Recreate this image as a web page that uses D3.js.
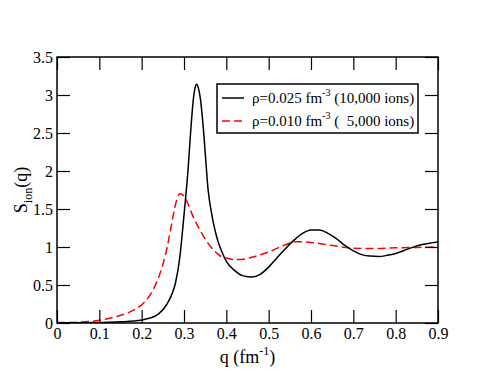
<!DOCTYPE html>
<html><head><meta charset="utf-8">
<script src="https://cdn.jsdelivr.net/npm/d3@7"></script>
<style>body{margin:0;background:#fff}svg{display:block}</style>
</head><body><svg id="c" width="493" height="381" style="font-family:'Liberation Serif', serif"></svg>
<script>
const seriesNames = ["ρ=0.025 fm|-3| (10,000 ions)", "ρ=0.010 fm|-3| (  5,000 ions)"];
const qBlack = [0,0.05,0.1,0.15,0.2,0.22,0.24,0.26,0.27,0.28,0.29,0.30,0.31,0.316,0.322,0.326,0.33,0.334,0.339,0.346,0.35,0.357,0.365,0.37,0.38,0.39,0.40,0.42,0.44,0.46,0.48,0.50,0.52,0.54,0.56,0.58,0.60,0.62,0.64,0.66,0.68,0.70,0.72,0.74,0.76,0.78,0.80,0.82,0.84,0.86,0.88,0.90];
const sBlack = [0,0.002,0.006,0.015,0.04,0.065,0.12,0.25,0.36,0.53,0.86,1.42,2.05,2.54,2.94,3.09,3.14,3.09,2.94,2.54,2.25,1.75,1.45,1.3,1.08,0.93,0.81,0.69,0.62,0.605,0.64,0.735,0.86,0.98,1.09,1.18,1.225,1.225,1.18,1.11,1.02,0.95,0.9,0.88,0.875,0.89,0.915,0.955,0.995,1.03,1.05,1.065];
const qRed = [0,0.05,0.1,0.14,0.17,0.2,0.22,0.24,0.25,0.26,0.27,0.28,0.29,0.30,0.31,0.32,0.34,0.354,0.37,0.385,0.40,0.42,0.44,0.46,0.50,0.54,0.566,0.60,0.65,0.70,0.75,0.80,0.85,0.90];
const sRed = [0.005,0.012,0.035,0.085,0.14,0.24,0.37,0.6,0.77,0.99,1.28,1.56,1.70,1.67,1.56,1.42,1.2,1.07,0.96,0.885,0.855,0.835,0.84,0.865,0.935,1.03,1.07,1.06,1.02,0.985,0.98,0.99,0.995,1.0];
const xTicks = [0,0.1,0.2,0.3,0.4,0.5,0.6,0.7,0.8,0.9];
const yTicks = [0,0.5,1,1.5,2,2.5,3,3.5];

const FONT = "'Liberation Serif', serif";
const svg = d3.select("#c");
try {
const L=57, R=438, T=57, B=323;
const x = d3.scaleLinear().domain([0,0.9]).range([L,R]);
const y = d3.scaleLinear().domain([0,3.5]).range([B,T]);

const line = d3.line().x(d=>x(d[0])).y(d=>y(d[1])).curve(d3.curveMonotoneX);
svg.append("defs").append("clipPath").attr("id","clip").append("rect").attr("x",L).attr("y",T).attr("width",R-L).attr("height",B-T);
const g = svg.append("g").attr("clip-path","url(#clip)");
g.append("path").datum(qRed.map((q,i)=>[q,sRed[i]])).attr("d",line).attr("fill","none").attr("stroke","#ff0000").attr("stroke-width",1.5).attr("stroke-dasharray","8,4");
g.append("path").datum(qBlack.map((q,i)=>[q,sBlack[i]])).attr("d",line).attr("fill","none").attr("stroke","#000").attr("stroke-width",1.5);

const xMinor = d3.range(0,0.9001,0.025).filter(v=>Math.abs(v*10-Math.round(v*10))>1e-6);
const yMinor = d3.range(0,3.5001,0.1).filter(v=>Math.abs(v*2-Math.round(v*2))>1e-6);
function ax(axisFn, scale, major, minor, tr, inner){
  const a = svg.append("g").attr("transform",tr);
  a.call(axisFn(scale).tickValues(minor).tickSize(-7).tickFormat(""));
  a.call(axisFn(scale).tickValues(major).tickSize(-13).tickFormat(inner?"":(d=>String(d))).tickPadding(22));
  a.attr("font-family",null).style("font-family",FONT);
  a.selectAll("line").attr("stroke","#000").attr("stroke-width",1.2);
  a.selectAll("text").attr("font-size",16).attr("fill","#000").style("font-family",FONT);
  return a;
}
const bx = ax(d3.axisBottom, x, xTicks, xMinor, `translate(0,${B})`, false);
bx.selectAll("text").attr("dy","0.71em").attr("y",5);
ax(d3.axisTop, x, xTicks, xMinor, `translate(0,${T})`, true);
const ly = ax(d3.axisLeft, y, yTicks, yMinor, `translate(${L},0)`, false);
ly.selectAll("text").attr("x",-4).attr("dy","0.36em");
ax(d3.axisRight, y, yTicks, yMinor, `translate(${R},0)`, true);
svg.selectAll(".domain").remove();
svg.selectAll("text").filter(function(){return this.textContent==="";}).remove();
svg.append("rect").attr("x",L).attr("y",T).attr("width",R-L).attr("height",B-T).attr("fill","none").attr("stroke","#000").attr("stroke-width",1.5);

const xt = svg.append("text").attr("x",(L+R)/2).attr("y",363).attr("text-anchor","middle").attr("font-size",18).style("font-family",FONT);
xt.append("tspan").text("q (fm");
xt.append("tspan").text("-1").attr("font-size",12).attr("dy",-8);
xt.append("tspan").text(")").attr("dy",8);
const yt = svg.append("text").attr("transform",`translate(27,${(T+B)/2}) rotate(-90)`).attr("text-anchor","middle").attr("font-size",18).style("font-family",FONT);
yt.append("tspan").text("S");
yt.append("tspan").text("ion").attr("font-size",12).attr("dy",5);
yt.append("tspan").text("(q)").attr("dy",-5);

const lg = svg.append("g");
lg.append("rect").attr("x",217).attr("y",84).attr("width",201).attr("height",49).attr("fill","#fff").attr("stroke","#000").attr("stroke-width",1.5);
const colors=["#000","#ff0000"], dashes=[null,"8,4"];
seriesNames.forEach((n,i)=>{
  const yy = 98 + i*23;
  lg.append("line").attr("x1",222).attr("x2",244).attr("y1",yy).attr("y2",yy).attr("stroke",colors[i]).attr("stroke-width",1.5).attr("stroke-dasharray",dashes[i]);
  const parts = n.split("|");
  const t = lg.append("text").attr("x",252).attr("y",yy+5).attr("font-size",15).style("font-family",FONT).style("white-space","pre");
  t.append("tspan").text(parts[0]);
  t.append("tspan").text(parts[1]).attr("font-size",10).attr("dy",-7);
  t.append("tspan").text(parts[2]).attr("dy",7);
});
svg.selectAll("text").style("font-family",FONT);
} catch(e) {
  svg.append("text").attr("x",2).attr("y",378).attr("font-size",9).attr("fill","#888").text("ERR "+e.message);
}
</script></body></html>
